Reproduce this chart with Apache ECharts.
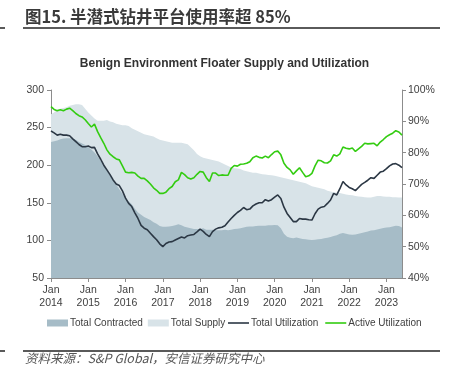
<!DOCTYPE html>
<html>
<head>
<meta charset="utf-8">
<script src="https://cdn.jsdelivr.net/npm/echarts@6/dist/echarts.min.js"></script>
<style>
html,body{margin:0;padding:0;background:#fff;}
#c{width:449px;height:380px;}
</style>
</head>
<body>
<div id="c"></div>
<script>
// Monthly, Jan 2014 .. Jun 2023
const startYear = 2014;
const monthCount = 114;
const monthNames = ['Jan','Feb','Mar','Apr','May','Jun','Jul','Aug','Sep','Oct','Nov','Dec'];
const categories = [];
for (let i = 0; i < monthCount; i++) {
  categories.push(monthNames[i % 12] + ' ' + (startYear + Math.floor(i / 12)));
}

// Left axis (units)
const totalSupply = [
  267.6, 270, 274, 275, 276, 277, 279, 280, 281, 281,
  280, 275, 270, 266, 262, 259, 259, 259, 260, 258,
  257, 255, 254, 253, 253, 252, 249, 247, 245, 243,
  241, 240, 239, 238, 236, 234, 233, 232, 231, 230,
  230, 230, 230, 229, 228, 224, 220, 215, 212, 210,
  209, 208, 207, 206, 205, 203, 201, 199, 197, 196,
  195.5, 195, 193, 192, 191, 190, 190, 189, 188, 187.5,
  187, 186.5, 186, 185, 184, 183, 182, 181, 180, 179,
  178, 177, 176, 174, 172, 171, 170, 169, 168, 166,
  165, 164, 163.5, 163, 162, 161, 160.5, 160, 159, 158.5,
  158, 157.5, 157, 157, 158, 159, 159, 158.5, 158, 158,
  157.5, 157.5, 157, 157
];
const totalContracted = [
  231, 232, 233, 234.5, 235.5, 236, 236, 235.5, 234, 231,
  229, 227, 224, 221, 217, 212, 206, 200, 193, 186,
  180, 174, 168, 162, 156, 152, 148, 142, 137, 134,
  131, 129, 127, 124, 122, 119, 118, 118, 118.5, 119,
  120, 121.5, 120, 118, 117, 116, 115, 115, 115, 116,
  114, 114, 114, 113.5, 113.5, 113.5, 114, 113.5, 114, 115,
  115.5, 116, 117, 118, 118.5, 118.5, 119, 119.5, 119.5, 119.5,
  120, 120, 120.5, 120, 116, 109, 105, 103.5, 103, 104,
  103, 102, 101.5, 101, 100.5, 101, 101.5, 102, 103, 103.5,
  104.5, 106, 107, 109, 110, 109, 108, 107.5, 108, 109,
  110, 111, 112, 113, 113.5, 114.5, 115.5, 116.5, 117, 117.5,
  118.5, 119.5, 119, 117
];
// Right axis (%)
const totalUtilization = [
  86.9, 86.3, 85.6, 85.9, 85.6, 85.6, 85.4, 84.4, 83.5, 82.6,
  81.9, 81.9, 82.1, 81.6, 81.7, 79.6, 77.9, 76.0, 74.5, 73.0,
  71.3, 70.0, 69.5, 67.8, 65.5, 63.8, 62.8, 60.8, 59.0, 56.8,
  55.9, 55.4, 54.3, 53.2, 52.2, 50.9, 50.0, 51.0, 51.5, 51.6,
  52.1, 52.6, 53.1, 52.8, 53.5, 53.7, 53.9, 54.7, 55.6, 54.9,
  53.9, 53.2, 54.8, 55.6, 56.0, 56.2, 56.7, 57.9, 59.0, 60.0,
  60.9, 61.6, 62.5, 61.8, 62.0, 63.0, 63.6, 64.0, 64.0, 65.0,
  64.6, 65.0, 65.8, 66.5, 65.4, 62.6, 60.6, 59.3, 58.0, 58.0,
  59.0, 58.8, 58.8, 58.6, 58.5, 60.5, 62.0, 62.6, 62.8, 63.8,
  64.9, 67.0, 66.5, 68.5, 70.8, 69.7, 68.9, 68.5, 67.9, 68.9,
  69.9, 70.5, 71.2, 72.0, 71.8, 72.8, 73.8, 74.1, 74.9, 75.8,
  76.4, 76.5, 76.0, 75.2
];
const activeUtilization = [
  94.7, 93.8, 93.4, 93.7, 93.4, 93.9, 94.2, 93.4, 92.5, 91.8,
  91.4, 90.5, 89.3, 88.2, 89.1, 86.7, 84.8, 83.0, 80.9, 79.5,
  78.7, 78.0, 77.7, 75.8, 73.8, 73.6, 73.7, 73.5, 72.5, 71.8,
  71.8, 71.0, 70.0, 68.8, 68.0, 67.0, 67.0, 67.4, 68.5, 69.2,
  70.7, 71.3, 73.7, 73.0, 72.0, 71.6, 72.0, 73.1, 74.0, 73.8,
  72.0, 70.8, 73.5, 73.5, 72.7, 72.9, 72.8, 72.8, 75.0, 75.9,
  75.7, 76.3, 76.4, 76.6, 77.1, 78.4, 78.9, 78.5, 78.3, 78.9,
  78.4, 79.4, 80.3, 80.5, 79.3, 76.6, 75.3, 74.5, 73.1, 74.2,
  75.2, 73.7, 72.3, 72.6, 73.4, 75.8, 77.6, 77.4, 76.8, 76.7,
  77.4, 79.3, 78.9, 79.6, 81.8, 81.4, 81.2, 81.5, 80.4, 81.2,
  82.0, 83.0, 82.8, 82.9, 83.0, 82.2, 83.4, 84.2, 85.1, 85.7,
  86.2, 87.0, 86.6, 85.6
];

const leftTicks = { min: 50, max: 300, interval: 50 };
const rightTicks = { min: 40, max: 100, interval: 10 };

const colors = { contracted: '#a6bcc7', supply: '#d8e3e8', total: '#2b3744', active: '#33cc11' };

const chart = echarts.init(document.getElementById('c'), null, { renderer: 'canvas' });
const axisGray = '#8c8c8c';
const txt = '#404040';
const font = 'Liberation Sans, Arial, sans-serif';
const legendText = { fontSize: 10, color: txt, fontFamily: font, padding: [0, 0, 0, -3] };

chart.setOption({
  animation: false,
  backgroundColor: '#ffffff',
  title: {
    text: 'Benign Environment Floater Supply and Utilization',
    left: 'center', top: 53,
    textStyle: { fontSize: 12, fontWeight: 'bold', color: '#333333', fontFamily: font }
  },
  grid: { left: 51, right: 47, top: 90, bottom: 102, containLabel: false },
  legend: [
    {
      data: [
        { name: 'Total Contracted', icon: 'rect' },
        { name: 'Total Supply', icon: 'rect' }
      ],
      left: 47, top: 318, padding: 0,
      itemWidth: 21, itemHeight: 7, itemGap: 5,
      textStyle: legendText
    },
    {
      data: [
        { name: 'Total Utilization', icon: 'rect' },
        { name: 'Active Utilization', icon: 'rect' }
      ],
      left: 228, top: 318, padding: 0,
      itemWidth: 21, itemHeight: 1.6, itemGap: 7,
      textStyle: legendText
    }
  ],
  xAxis: {
    type: 'category', data: categories, boundaryGap: false,
    axisLine: { lineStyle: { color: axisGray, width: 1 } },
    axisTick: { interval: function (i) { return i % 12 === 0; }, length: 4, lineStyle: { color: axisGray } },
    axisLabel: {
      interval: function (i) { return i % 12 === 0; },
      formatter: function (v) { const p = v.split(' '); return p[0] + '\n' + p[1]; },
      fontSize: 10.5, color: txt, fontFamily: font, lineHeight: 13, margin: 6
    },
    splitLine: { show: false }
  },
  yAxis: [
    {
      type: 'value', min: leftTicks.min, max: leftTicks.max, interval: leftTicks.interval,
      axisLine: { show: true, lineStyle: { color: axisGray } },
      axisTick: { show: true, length: 4, lineStyle: { color: axisGray } },
      axisLabel: { fontSize: 10.5, color: txt, fontFamily: font, margin: 7 },
      splitLine: { show: false }
    },
    {
      type: 'value', min: rightTicks.min, max: rightTicks.max, interval: rightTicks.interval,
      position: 'right',
      axisLine: { show: true, lineStyle: { color: axisGray } },
      axisTick: { show: true, length: 4, lineStyle: { color: axisGray } },
      axisLabel: { formatter: '{value}%', fontSize: 10.5, color: txt, fontFamily: font, margin: 6 },
      splitLine: { show: false }
    }
  ],
  series: [
    {
      name: 'Total Supply', type: 'line', data: totalSupply, yAxisIndex: 0,
      symbol: 'none', lineStyle: { width: 0 }, itemStyle: { color: colors.supply },
      areaStyle: { color: colors.supply, opacity: 1, origin: 'start' }, z: 1
    },
    {
      name: 'Total Contracted', type: 'line', data: totalContracted, yAxisIndex: 0,
      symbol: 'none', lineStyle: { width: 0 }, itemStyle: { color: colors.contracted },
      areaStyle: { color: colors.contracted, opacity: 1, origin: 'start' }, z: 2
    },
    {
      name: 'Total Utilization', type: 'line', data: totalUtilization, yAxisIndex: 1,
      symbol: 'none', showSymbol: false, itemStyle: { color: colors.total },
      lineStyle: { color: colors.total, width: 1.6 }, z: 3
    },
    {
      name: 'Active Utilization', type: 'line', data: activeUtilization, yAxisIndex: 1,
      symbol: 'none', showSymbol: false, itemStyle: { color: colors.active },
      lineStyle: { color: colors.active, width: 1.6 }, z: 4
    }
  ],
  graphic: [
    {
      type: 'text', left: 25, top: 8,
      style: { text: '图15. 半潜式钻井平台使用率超 85%', fontSize: 16.5, fontWeight: 'bold',
        fill: '#3a3a3a', fontFamily: 'Noto Sans CJK SC, sans-serif' }
    },
    { type: 'rect', shape: { x: 23, y: 27, width: 417, height: 2 }, style: { fill: '#5a5a5a' } },
    { type: 'rect', shape: { x: 0, y: 27, width: 5, height: 2 }, style: { fill: '#5a5a5a' } },
    { type: 'rect', shape: { x: 23, y: 350, width: 417, height: 2 }, style: { fill: '#5a5a5a' } },
    { type: 'rect', shape: { x: 0, y: 350, width: 5, height: 2 }, style: { fill: '#5a5a5a' } },
    {
      type: 'text', left: 25, top: 352,
      style: { text: '资料来源：S&P Global，安信证券研究中心', fontSize: 12.5, fontStyle: 'italic',
        fill: '#555555', fontFamily: 'Noto Sans CJK SC, sans-serif' }
    }
  ]
});
</script>
</body>
</html>
